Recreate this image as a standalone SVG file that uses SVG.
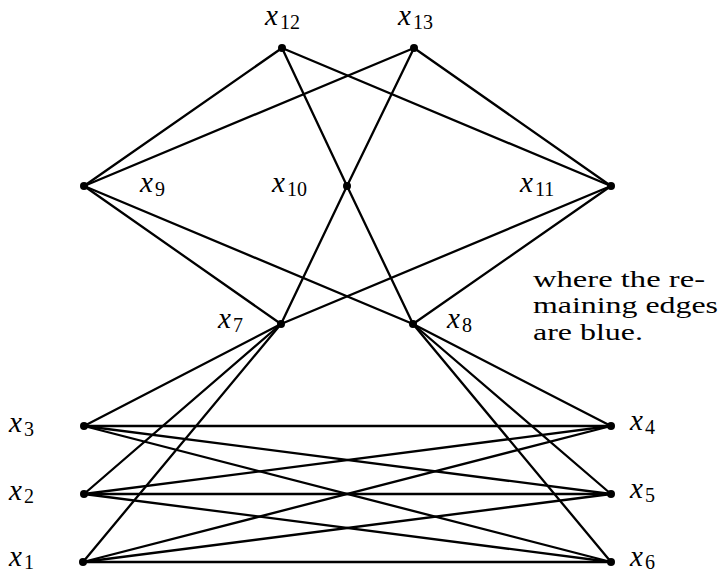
<svg xmlns="http://www.w3.org/2000/svg" width="722" height="572" viewBox="0 0 722 572">
<style>
.e{stroke:#000;stroke-width:2.3;fill:none;stroke-linecap:round}
.n{fill:#000}
.v{font-family:"Liberation Serif",serif;font-style:italic;font-size:29px;fill:#000}
.s{font-family:"Liberation Serif",serif;font-style:normal;font-size:20px;fill:#000}
.t{font-family:"Liberation Serif",serif;font-size:23px;fill:#000}
</style>
<rect width="722" height="572" fill="#fff"/>
<g id="edges">
<line class="e" x1="282" y1="48" x2="84" y2="186"/>
<line class="e" x1="282" y1="48" x2="611" y2="186"/>
<line class="e" x1="282" y1="48" x2="347" y2="186"/>
<line class="e" x1="347" y1="186" x2="413" y2="324"/>
<line class="e" x1="414" y1="48" x2="84" y2="186"/>
<line class="e" x1="414" y1="48" x2="611" y2="186"/>
<line class="e" x1="414" y1="48" x2="347" y2="186"/>
<line class="e" x1="347" y1="186" x2="281" y2="324"/>
<line class="e" x1="84" y1="186" x2="281" y2="324"/>
<line class="e" x1="84" y1="186" x2="413" y2="324"/>
<line class="e" x1="611" y1="186" x2="281" y2="324"/>
<line class="e" x1="611" y1="186" x2="413" y2="324"/>
<line class="e" x1="281" y1="324" x2="84" y2="426"/>
<line class="e" x1="281" y1="324" x2="84" y2="494"/>
<line class="e" x1="281" y1="324" x2="83" y2="562"/>
<line class="e" x1="413" y1="324" x2="611" y2="426"/>
<line class="e" x1="413" y1="324" x2="611" y2="494"/>
<line class="e" x1="413" y1="324" x2="611" y2="562"/>
<line class="e" x1="84" y1="426" x2="611" y2="426"/>
<line class="e" x1="84" y1="426" x2="611" y2="494"/>
<line class="e" x1="84" y1="426" x2="611" y2="562"/>
<line class="e" x1="84" y1="494" x2="611" y2="426"/>
<line class="e" x1="84" y1="494" x2="611" y2="494"/>
<line class="e" x1="84" y1="494" x2="611" y2="562"/>
<line class="e" x1="83" y1="562" x2="611" y2="426"/>
<line class="e" x1="83" y1="562" x2="611" y2="494"/>
<line class="e" x1="83" y1="562" x2="611" y2="562"/>
</g>
<g id="x12"><circle class="n" cx="282" cy="48" r="4"/><text class="v" x="265" y="25">x<tspan class="s" dx="2" dy="4">12</tspan></text></g>
<g id="x13"><circle class="n" cx="414" cy="48" r="4"/><text class="v" x="398" y="25">x<tspan class="s" dx="2" dy="4">13</tspan></text></g>
<g id="x9"><circle class="n" cx="84" cy="186" r="4"/><text class="v" x="140" y="192">x<tspan class="s" dx="2" dy="4">9</tspan></text></g>
<g id="x10"><circle class="n" cx="347" cy="186" r="4"/><text class="v" x="272" y="192">x<tspan class="s" dx="2" dy="4">10</tspan></text></g>
<g id="x11"><circle class="n" cx="611" cy="186" r="4"/><text class="v" x="520" y="192">x<tspan class="s" dx="2" dy="4">11</tspan></text></g>
<g id="x7"><circle class="n" cx="281" cy="324" r="4"/><text class="v" x="218" y="328">x<tspan class="s" dx="2" dy="4">7</tspan></text></g>
<g id="x8"><circle class="n" cx="413" cy="324" r="4"/><text class="v" x="447" y="328">x<tspan class="s" dx="2" dy="4">8</tspan></text></g>
<g id="x3"><circle class="n" cx="84" cy="426" r="4"/><text class="v" x="9" y="432">x<tspan class="s" dx="2" dy="4">3</tspan></text></g>
<g id="x2"><circle class="n" cx="84" cy="494" r="4"/><text class="v" x="9" y="500">x<tspan class="s" dx="2" dy="3">2</tspan></text></g>
<g id="x1"><circle class="n" cx="83" cy="562" r="4"/><text class="v" x="9" y="566">x<tspan class="s" dx="2" dy="3">1</tspan></text></g>
<g id="x4"><circle class="n" cx="611" cy="426" r="4"/><text class="v" x="630" y="430">x<tspan class="s" dx="2" dy="4">4</tspan></text></g>
<g id="x5"><circle class="n" cx="611" cy="494" r="4"/><text class="v" x="630" y="498">x<tspan class="s" dx="2" dy="4">5</tspan></text></g>
<g id="x6"><circle class="n" cx="611" cy="562" r="4"/><text class="v" x="630" y="566">x<tspan class="s" dx="2" dy="3">6</tspan></text></g>
<g id="note">
<text class="t" x="533" y="287" textLength="172" lengthAdjust="spacingAndGlyphs">where the re-</text>
<text class="t" x="533" y="313" textLength="185" lengthAdjust="spacingAndGlyphs">maining edges</text>
<text class="t" x="533" y="340" textLength="110" lengthAdjust="spacingAndGlyphs">are blue.</text>
</g>
</svg>
